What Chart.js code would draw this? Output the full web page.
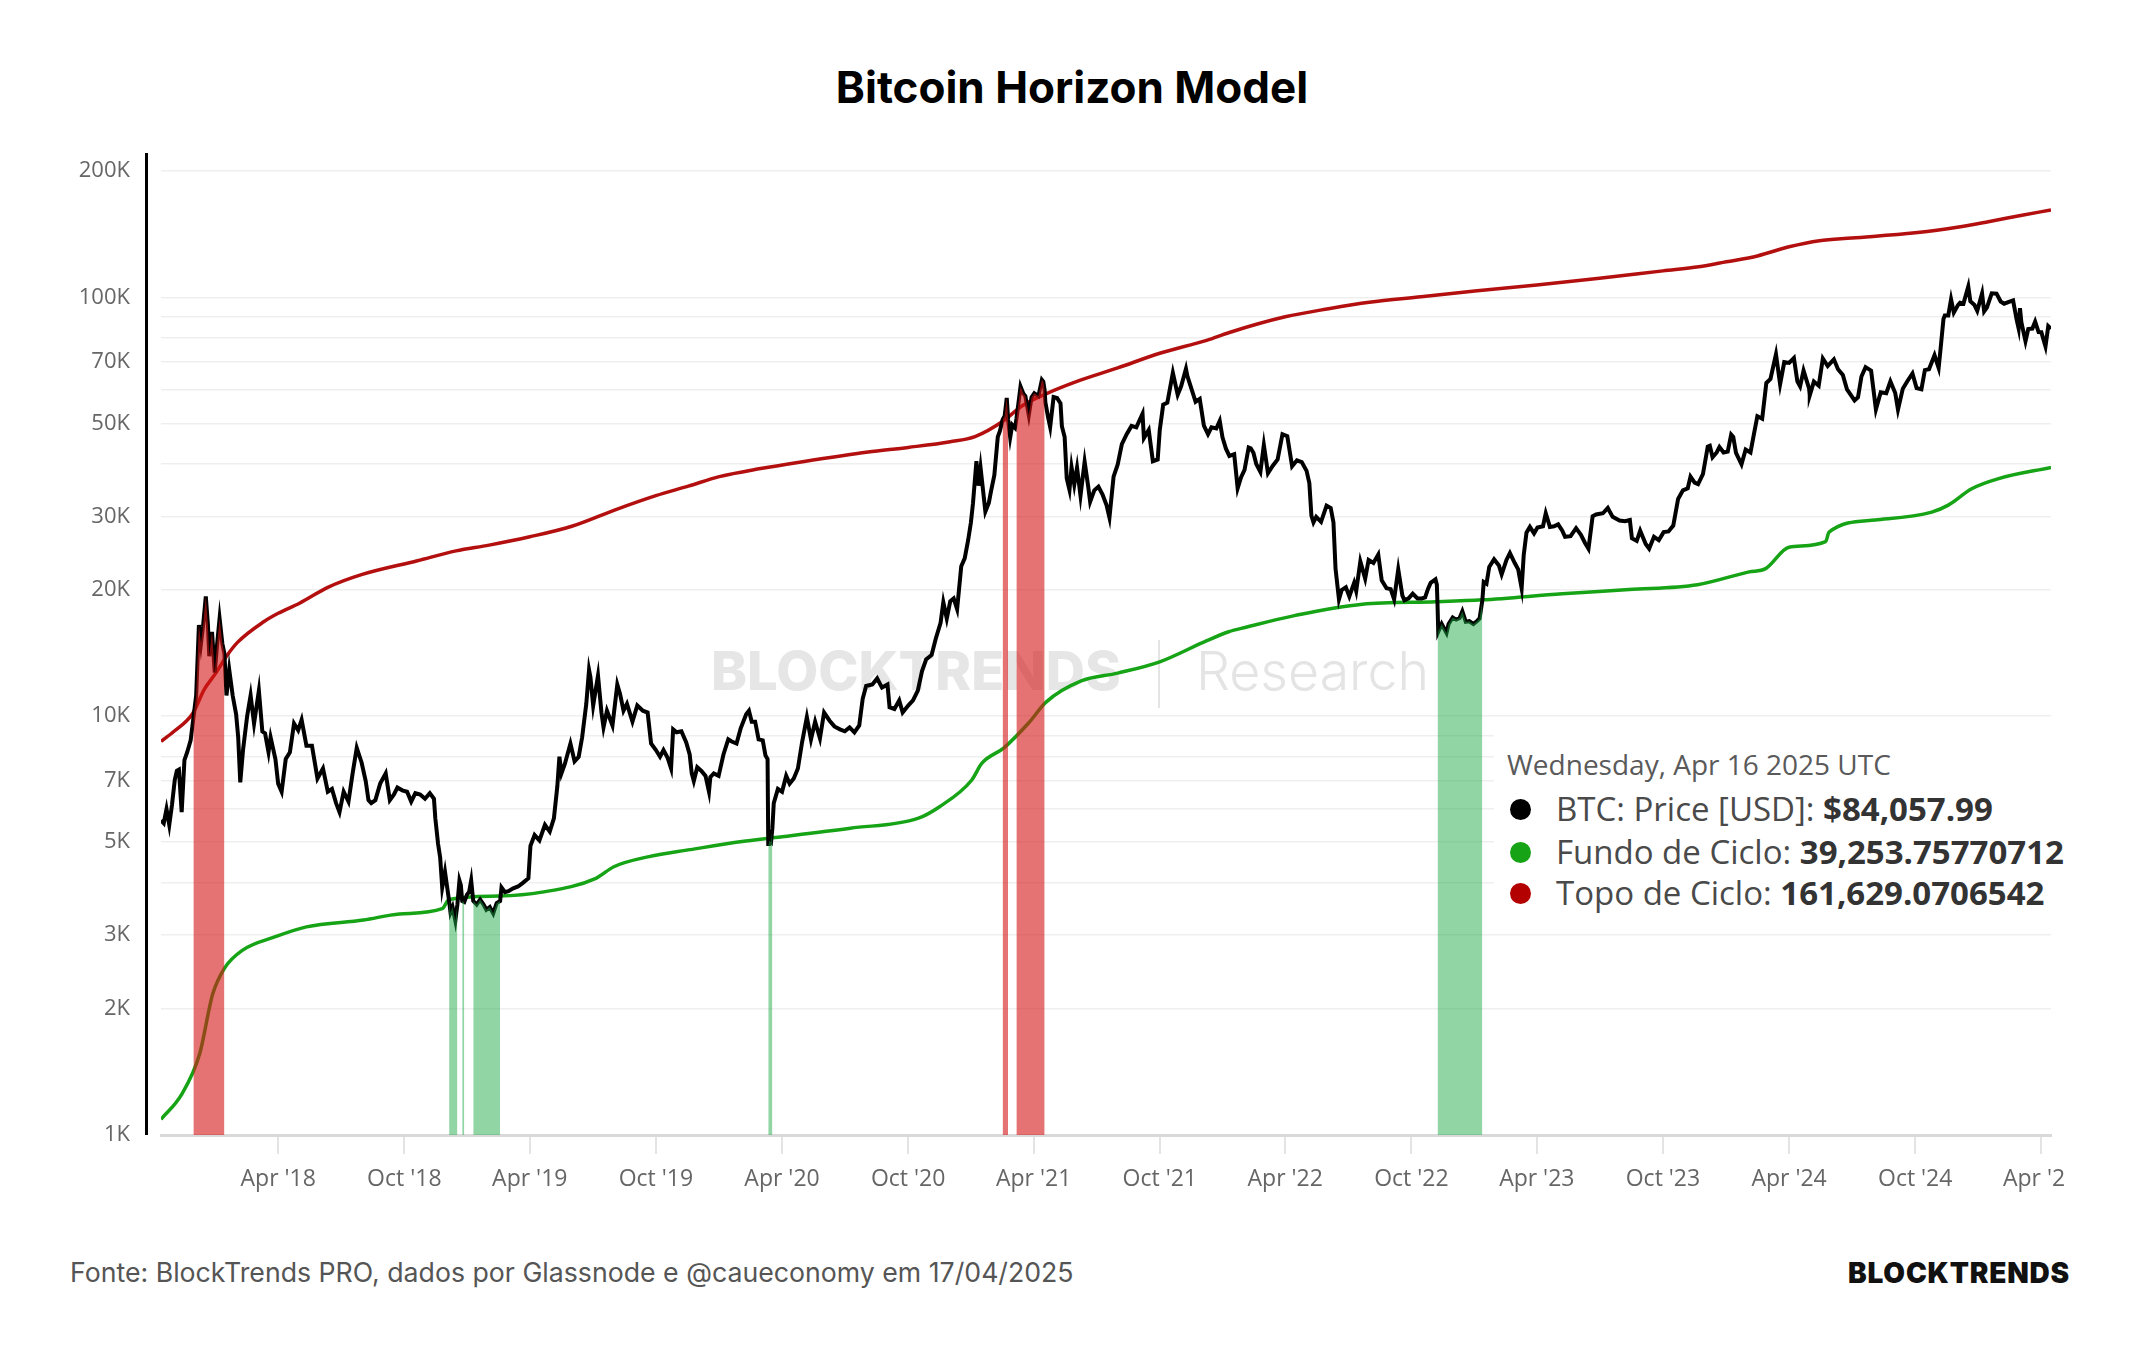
<!DOCTYPE html>
<html>
<head>
<meta charset="utf-8">
<script src="https://cdn.jsdelivr.net/npm/chart.js@4.4.1/dist/chart.umd.min.js"></script>
<style>
  html, body { margin: 0; padding: 0; background: #fff; }
  body { width: 2144px; height: 1350px; position: relative; overflow: hidden; font-family: 'Open Sans', sans-serif; }
  #title { position: absolute; left: 0; top: 59px; width: 2144px; text-align: center; font: 700 44px Inter, sans-serif; line-height: 56px; color: #000; }
  #wrap { position: absolute; left: 0; top: 140px; width: 2066px; height: 1090px; }
  #tipbox { position: absolute; left: 1494px; top: 728px; width: 572px; height: 192px; background: #fff; }
  .row { position: absolute; left: 1556px; height: 40px; line-height: 40px; font-size: 33px; color: #4a4a4a; white-space: nowrap; }
  .row b { color: #333; font-weight: 700; }
  .dot { position: absolute; left: 1510px; width: 21px; height: 21px; border-radius: 50%; }
  #date { position: absolute; left: 1507px; top: 744px; line-height: 40px; font-size: 28px; color: #5a5a5a; white-space: nowrap; }
  #src { position: absolute; left: 70px; top: 1256px; line-height: 40px; font: 400 26.7px Inter, sans-serif; color: #555; white-space: nowrap; }
  #logo { position: absolute; right: 74px; top: 1256px; line-height: 40px; font: 900 28px Inter, sans-serif; color: #111; letter-spacing: 0.8px; }
</style>
</head>
<body>
<div id="title">Bitcoin Horizon Model</div>
<div id="wrap"><canvas id="chart" width="2066" height="1090" style="width:2066px;height:1090px"></canvas></div>

<div id="tipbox"></div>
<div id="date">Wednesday, Apr 16 2025 UTC</div>
<span class="dot" style="top:799px;background:#000"></span>
<div class="row" style="top:789px">BTC: Price [USD]: <b>$84,057.99</b></div>
<span class="dot" style="top:842px;background:#16a316"></span>
<div class="row" style="top:832px">Fundo de Ciclo: <b>39,253.75770712</b></div>
<span class="dot" style="top:883px;background:#b30000"></span>
<div class="row" style="top:873px">Topo de Ciclo: <b>161,629.0706542</b></div>

<div id="src">Fonte: BlockTrends PRO, dados por Glassnode e @caueconomy em 17/04/2025</div>
<div id="logo">BLOCKTRENDS</div>

<script>
// BTC price, thousands of USD (one line per month)
const priceDates = [
  '2017-10-13','2017-10-17','2017-10-21','2017-10-25','2017-10-29',
  '2017-11-02','2017-11-05','2017-11-08','2017-11-12','2017-11-16','2017-11-20','2017-11-25','2017-11-29',
  '2017-12-03','2017-12-07','2017-12-10','2017-12-13','2017-12-17','2017-12-20','2017-12-22','2017-12-26','2017-12-30',
  '2018-01-02','2018-01-06','2018-01-10','2018-01-13','2018-01-16','2018-01-20','2018-01-25','2018-01-30',
  '2018-02-02','2018-02-05','2018-02-09','2018-02-15','2018-02-20','2018-02-25',
  '2018-03-04','2018-03-09','2018-03-13','2018-03-18','2018-03-21','2018-03-28',
  '2018-04-01','2018-04-06','2018-04-12','2018-04-18','2018-04-24','2018-04-30',
  '2018-05-05','2018-05-12','2018-05-20','2018-05-28',
  '2018-06-05','2018-06-12','2018-06-18','2018-06-24','2018-06-29',
  '2018-07-05','2018-07-12','2018-07-18','2018-07-24','2018-07-31',
  '2018-08-06','2018-08-10','2018-08-14','2018-08-20','2018-08-27',
  '2018-09-04','2018-09-10','2018-09-16','2018-09-21','2018-09-28',
  '2018-10-05','2018-10-11','2018-10-17','2018-10-24','2018-10-31',
  '2018-11-07','2018-11-13','2018-11-15','2018-11-19','2018-11-22','2018-11-25','2018-11-29',
  '2018-12-05','2018-12-07','2018-12-10','2018-12-14','2018-12-17','2018-12-20','2018-12-22','2018-12-24','2018-12-27','2018-12-31',
  '2019-01-03','2019-01-06','2019-01-09','2019-01-14','2019-01-19','2019-01-24','2019-01-28',
  '2019-02-02','2019-02-07','2019-02-12','2019-02-17','2019-02-19','2019-02-24',
  '2019-03-01','2019-03-08','2019-03-15','2019-03-22','2019-03-30',
  '2019-04-02','2019-04-08','2019-04-15','2019-04-23','2019-04-30',
  '2019-05-06','2019-05-11','2019-05-14','2019-05-17','2019-05-22','2019-05-30',
  '2019-06-05','2019-06-11','2019-06-16','2019-06-22','2019-06-26','2019-06-28',
  '2019-07-02','2019-07-09','2019-07-14','2019-07-17','2019-07-22','2019-07-30',
  '2019-08-06','2019-08-10','2019-08-15','2019-08-20','2019-08-28',
  '2019-09-04','2019-09-12','2019-09-19','2019-09-24',
  '2019-10-01','2019-10-07','2019-10-12','2019-10-18','2019-10-23','2019-10-26','2019-10-31',
  '2019-11-07','2019-11-14','2019-11-19','2019-11-22','2019-11-25','2019-11-30',
  '2019-12-06','2019-12-12','2019-12-17','2019-12-19','2019-12-24','2019-12-31',
  '2020-01-07','2020-01-14','2020-01-19','2020-01-26',
  '2020-02-01','2020-02-09','2020-02-13','2020-02-17','2020-02-22','2020-02-27',
  '2020-03-04','2020-03-08','2020-03-11','2020-03-12','2020-03-13','2020-03-16','2020-03-18','2020-03-20','2020-03-26',
  '2020-04-01','2020-04-07','2020-04-12','2020-04-18','2020-04-24','2020-04-30',
  '2020-05-07','2020-05-13','2020-05-19','2020-05-26',
  '2020-06-01','2020-06-09','2020-06-16','2020-06-24',
  '2020-07-01','2020-07-08','2020-07-15','2020-07-22','2020-07-27',
  '2020-08-01','2020-08-10','2020-08-17','2020-08-24',
  '2020-09-01','2020-09-04','2020-09-11','2020-09-18','2020-09-23',
  '2020-10-01','2020-10-08','2020-10-15','2020-10-21','2020-10-27',
  '2020-11-04','2020-11-10','2020-11-17','2020-11-21','2020-11-26',
  '2020-12-01','2020-12-06','2020-12-11','2020-12-17','2020-12-22','2020-12-27','2020-12-31',
  '2021-01-03','2021-01-08','2021-01-11','2021-01-14','2021-01-21','2021-01-26','2021-01-29',
  '2021-02-03','2021-02-08','2021-02-11','2021-02-15','2021-02-18','2021-02-21','2021-02-23','2021-02-26',
  '2021-03-01','2021-03-05','2021-03-07','2021-03-10','2021-03-13','2021-03-17','2021-03-20','2021-03-25','2021-03-29',
  '2021-04-02','2021-04-08','2021-04-13','2021-04-15','2021-04-17','2021-04-18','2021-04-22','2021-04-25','2021-04-30',
  '2021-05-05','2021-05-10','2021-05-12','2021-05-16','2021-05-19','2021-05-23','2021-05-26','2021-05-30',
  '2021-06-03','2021-06-08','2021-06-14','2021-06-19','2021-06-22','2021-06-28',
  '2021-07-04','2021-07-10','2021-07-16','2021-07-20','2021-07-26',
  '2021-08-01','2021-08-07','2021-08-14','2021-08-21','2021-08-28',
  '2021-09-06','2021-09-08','2021-09-15','2021-09-21','2021-09-28',
  '2021-10-01','2021-10-06','2021-10-12','2021-10-20','2021-10-27',
  '2021-11-01','2021-11-08','2021-11-10','2021-11-16','2021-11-22','2021-11-28',
  '2021-12-04','2021-12-10','2021-12-15','2021-12-22','2021-12-27','2021-12-31',
  '2022-01-05','2022-01-10','2022-01-17','2022-01-22','2022-01-27',
  '2022-02-01','2022-02-07','2022-02-10','2022-02-14','2022-02-18','2022-02-24',
  '2022-03-01','2022-03-07','2022-03-14','2022-03-21','2022-03-28',
  '2022-04-04','2022-04-11','2022-04-18','2022-04-25',
  '2022-05-02','2022-05-06','2022-05-09','2022-05-12','2022-05-16','2022-05-23','2022-05-31',
  '2022-06-06','2022-06-10','2022-06-13','2022-06-18','2022-06-22','2022-06-28',
  '2022-07-03','2022-07-10','2022-07-13','2022-07-19','2022-07-26','2022-07-31',
  '2022-08-07','2022-08-14','2022-08-19','2022-08-26',
  '2022-09-01','2022-09-06','2022-09-12','2022-09-18','2022-09-21','2022-09-27',
  '2022-10-03','2022-10-10','2022-10-16','2022-10-21','2022-10-25','2022-10-29',
  '2022-11-05','2022-11-07','2022-11-08','2022-11-09','2022-11-14','2022-11-21','2022-11-24','2022-11-30',
  '2022-12-05','2022-12-10','2022-12-14','2022-12-19','2022-12-24','2022-12-30',
  '2023-01-04','2023-01-08','2023-01-12','2023-01-14','2023-01-18','2023-01-22','2023-01-29',
  '2023-02-05','2023-02-09','2023-02-16','2023-02-21','2023-02-28',
  '2023-03-05','2023-03-10','2023-03-13','2023-03-17','2023-03-22','2023-03-28',
  '2023-04-02','2023-04-10','2023-04-14','2023-04-20','2023-04-26',
  '2023-05-02','2023-05-08','2023-05-12','2023-05-20','2023-05-28',
  '2023-06-04','2023-06-10','2023-06-15','2023-06-21','2023-06-26',
  '2023-07-06','2023-07-13','2023-07-20','2023-07-30',
  '2023-08-07','2023-08-14','2023-08-17','2023-08-24','2023-08-29',
  '2023-09-06','2023-09-11','2023-09-18','2023-09-25',
  '2023-10-02','2023-10-09','2023-10-16','2023-10-23','2023-10-30',
  '2023-11-06','2023-11-10','2023-11-16','2023-11-21','2023-11-28',
  '2023-12-05','2023-12-08','2023-12-12','2023-12-18','2023-12-22','2023-12-28',
  '2024-01-03','2024-01-08','2024-01-11','2024-01-15','2024-01-23','2024-01-29',
  '2024-02-05','2024-02-10','2024-02-15','2024-02-22','2024-02-28',
  '2024-03-05','2024-03-13','2024-03-19','2024-03-25',
  '2024-04-01','2024-04-08','2024-04-13','2024-04-17','2024-04-22','2024-04-30',
  '2024-05-01','2024-05-07','2024-05-14','2024-05-20','2024-05-27',
  '2024-06-05','2024-06-11','2024-06-18','2024-06-24',
  '2024-07-05','2024-07-10','2024-07-15','2024-07-21','2024-07-29',
  '2024-08-05','2024-08-12','2024-08-20','2024-08-26',
  '2024-09-02','2024-09-06','2024-09-13','2024-09-20','2024-09-27',
  '2024-10-03','2024-10-10','2024-10-15','2024-10-21','2024-10-29',
  '2024-11-04','2024-11-07','2024-11-11','2024-11-13','2024-11-18','2024-11-22','2024-11-26',
  '2024-12-02','2024-12-05','2024-12-10','2024-12-17','2024-12-20','2024-12-26','2024-12-30',
  '2025-01-06','2025-01-09','2025-01-13','2025-01-20','2025-01-27',
  '2025-02-02','2025-02-07','2025-02-14','2025-02-20','2025-02-25','2025-02-28',
  '2025-03-02','2025-03-04','2025-03-10','2025-03-14','2025-03-20','2025-03-24','2025-03-29',
  '2025-04-02','2025-04-06','2025-04-08','2025-04-12','2025-04-16'
];
const priceK = [
  5.64, 5.55, 6.00, 5.50, 6.15,
  7.05, 7.40, 7.45, 5.90, 7.85, 8.20, 8.75, 9.90,
  11.2, 16.5, 14.9, 16.4, 19.3, 16.6, 13.9, 15.9, 12.7,
  14.6, 17.1, 14.9, 14.1, 11.2, 12.9, 11.2, 10.1,
  8.90, 6.95, 8.30, 10.0, 11.2, 9.60,
  11.5, 9.20, 9.10, 8.20, 8.90, 7.90,
  6.90, 6.60, 7.90, 8.20, 9.60, 9.25,
  9.80, 8.50, 8.50, 7.10,
  7.50, 6.60, 6.70, 6.20, 5.90,
  6.60, 6.25, 7.30, 8.40, 7.75,
  7.00, 6.30, 6.20, 6.30, 6.90,
  7.30, 6.30, 6.50, 6.75, 6.65,
  6.60, 6.25, 6.55, 6.50, 6.35,
  6.55, 6.35, 5.70, 4.95, 4.60, 3.90, 4.25,
  3.62, 3.40, 3.50, 3.25, 3.55, 4.05, 3.95, 3.62, 3.60, 3.75,
  3.80, 4.05, 3.62, 3.55, 3.65, 3.55, 3.45,
  3.50, 3.38, 3.58, 3.62, 3.90, 3.80,
  3.82, 3.88, 3.92, 4.00, 4.10,
  4.90, 5.20, 5.05, 5.50, 5.30,
  5.70, 6.80, 8.00, 7.30, 7.70, 8.60,
  7.80, 8.00, 8.90, 10.7, 12.9, 12.4,
  10.6, 12.5, 10.2, 9.40, 10.3, 9.50,
  11.9, 11.3, 10.3, 10.7, 9.70,
  10.6, 10.3, 10.2, 8.60,
  8.30, 8.00, 8.30, 7.95, 7.50, 9.30, 9.15,
  9.20, 8.65, 8.10, 7.30, 7.00, 7.55,
  7.40, 7.20, 6.60, 7.15, 7.30, 7.20,
  8.10, 8.80, 8.70, 8.60,
  9.35, 10.1, 10.3, 9.70, 9.70, 8.80,
  8.75, 8.05, 7.90, 4.95, 5.05, 5.00, 5.40, 6.20, 6.70,
  6.60, 7.20, 6.90, 7.10, 7.50, 8.65,
  9.95, 8.80, 9.70, 8.85,
  10.2, 9.75, 9.45, 9.30,
  9.20, 9.40, 9.15, 9.50, 11.0,
  11.8, 11.9, 12.3, 11.7,
  11.9, 10.5, 10.4, 10.9, 10.2,
  10.6, 10.9, 11.5, 12.8, 13.65,
  14.0, 15.3, 16.7, 18.7, 17.1,
  18.8, 19.1, 18.0, 22.8, 23.8, 26.3, 29.0,
  32.2, 40.6, 35.5, 39.2, 30.8, 32.3, 34.3,
  37.6, 46.4, 47.9, 51.0, 52.1, 57.5, 51.0, 46.3,
  49.6, 48.8, 51.2, 55.9, 61.2, 58.9, 58.1, 52.3, 57.7,
  59.0, 58.1, 63.5, 62.9, 60.0, 56.2, 51.7, 49.0, 57.8,
  57.5, 55.8, 49.2, 46.4, 37.0, 34.7, 39.3, 35.7,
  39.2, 33.6, 40.5, 35.5, 32.5, 34.6,
  35.3, 33.8, 31.8, 29.8, 37.3,
  39.9, 44.6, 47.1, 49.3, 48.9,
  52.7, 46.1, 48.2, 40.6, 41.0,
  48.2, 55.4, 56.0, 66.0, 58.5,
  61.3, 67.5, 64.9, 60.4, 56.3, 57.2,
  49.4, 47.1, 48.9, 48.6, 50.7, 46.3,
  43.5, 41.8, 42.2, 35.0, 37.2,
  38.7, 43.8, 43.6, 42.5, 40.0, 38.3,
  44.4, 38.0, 39.6, 41.0, 47.1,
  46.6, 39.5, 40.8, 40.4,
  38.5, 36.0, 30.1, 29.0, 29.9, 29.1, 31.8,
  31.4, 29.0, 22.5, 19.0, 20.0, 20.3,
  19.3, 20.8, 19.9, 23.4, 21.3, 23.6,
  23.2, 24.3, 21.1, 20.2,
  20.1, 19.0, 22.4, 19.4, 18.9, 19.1,
  19.6, 19.1, 19.1, 19.2, 20.1, 20.8,
  21.2, 20.6, 18.4, 15.9, 16.6, 15.8, 16.6, 17.2,
  17.0, 17.15, 17.8, 16.8, 16.85, 16.6,
  16.85, 17.1, 18.9, 20.9, 20.7, 22.7, 23.7,
  22.9, 21.8, 23.6, 24.5, 23.2,
  22.4, 20.2, 24.2, 27.4, 28.3, 27.3,
  28.2, 28.4, 30.5, 28.3, 28.4,
  28.7, 27.7, 26.8, 26.9, 28.1,
  27.1, 25.9, 25.1, 30.0, 30.3,
  30.5, 31.4, 29.9, 29.3,
  29.2, 29.4, 26.6, 26.2, 27.7,
  25.75, 25.1, 26.8, 26.3,
  27.5, 27.6, 28.5, 33.0, 34.6,
  35.0, 37.3, 36.1, 35.8, 37.8,
  44.0, 44.2, 41.5, 42.6, 43.9, 42.6,
  42.8, 47.0, 46.4, 42.5, 39.9, 43.3,
  42.6, 47.1, 52.0, 51.3, 62.4,
  63.8, 73.1, 62.0, 70.0,
  69.7, 71.6, 63.0, 61.3, 66.8, 60.6,
  58.3, 62.9, 61.5, 71.4, 68.5,
  71.1, 67.3, 65.2, 60.3,
  56.7, 57.7, 64.7, 68.1, 66.8,
  54.0, 59.3, 59.0, 63.0,
  59.1, 53.9, 60.5, 63.2, 65.8,
  60.7, 60.3, 67.0, 67.3, 72.7,
  67.8, 75.9, 88.7, 90.5, 90.5, 98.9, 91.9,
  95.8, 97.0, 96.6, 106.1, 97.8, 95.8, 92.8,
  102.1, 92.5, 94.5, 102.2, 102.0,
  97.7, 96.5, 97.5, 98.3, 88.7, 84.3,
  94.2, 87.2, 78.5, 84.0, 84.2, 87.5, 82.6,
  82.5, 78.3, 76.3, 85.3, 84.06
];

// Topo de Ciclo (red), thousands of USD
const topDates = [
  '2017-10-13','2017-11-01','2017-11-28','2017-12-15',
  '2018-01-01','2018-01-16','2018-02-01','2018-03-11','2018-04-01','2018-05-02','2018-06-12','2018-08-01','2018-10-20','2018-12-15',
  '2019-02-01','2019-04-01','2019-06-01','2019-08-01','2019-10-01','2019-11-17',
  '2020-01-01','2020-03-01','2020-05-01','2020-08-04','2020-10-01','2020-12-01',
  '2021-01-06','2021-02-17','2021-03-15','2021-04-19','2021-06-01','2021-08-01','2021-10-01','2021-12-08',
  '2022-01-10','2022-04-01','2022-06-03','2022-08-01','2022-10-15',
  '2023-01-01','2023-04-01','2023-07-01','2023-10-01','2023-11-22',
  '2024-01-01','2024-02-15','2024-04-01','2024-05-15','2024-07-01','2024-10-01','2024-12-01',
  '2025-01-15','2025-03-01','2025-04-16'
];
const topK = [
  8.7, 9.2, 10.15, 11.6,
  12.7, 13.9, 15.0, 16.8, 17.6, 18.6, 20.3, 21.8, 23.5, 24.8,
  25.6, 26.8, 28.4, 31.0, 33.6, 35.4,
  37.3, 39.0, 40.5, 42.7, 43.8, 45.2,
  46.5, 50.8, 55.0, 58.8, 62.8, 67.8, 73.5, 78.9,
  82.4, 89.8, 93.9, 97.3, 100.3,
  103.5, 107, 111, 115.6, 118.2,
  121.5, 125.5, 132, 136.5, 138.5, 142.5, 147.0,
  151.5, 156.5, 161.63
];

// Fundo de Ciclo (green), thousands of USD
const bottomDates = [
  '2017-10-13','2017-11-12','2017-12-08','2017-12-27',
  '2018-01-13','2018-02-08','2018-03-27','2018-05-12','2018-08-03','2018-09-24','2018-11-25','2018-12-05',
  '2019-02-15','2019-04-19','2019-07-06','2019-08-01','2019-09-21','2019-11-20',
  '2020-02-03','2020-03-22','2020-07-09','2020-10-15','2020-11-15',
  '2021-01-01','2021-01-16','2021-02-17','2021-03-25','2021-04-19','2021-06-10','2021-08-01','2021-10-02','2021-12-03',
  '2022-01-09','2022-02-03','2022-04-16','2022-07-22','2022-11-05',
  '2023-01-12','2023-05-08','2023-08-13','2023-11-20',
  '2024-02-03','2024-02-27','2024-04-01','2024-05-24','2024-05-29','2024-08-04','2024-10-25','2024-11-18','2024-12-22',
  '2025-01-30','2025-04-16'
];
const bottomK = [
  1.09, 1.25, 1.56, 2.17,
  2.5, 2.76, 2.97, 3.14, 3.26, 3.37, 3.47, 3.65,
  3.72, 3.8, 4.1, 4.37, 4.62, 4.8,
  5.02, 5.13, 5.40, 5.70, 6.07,
  7.03, 7.72, 8.4, 9.64, 10.8, 12.15, 12.67, 13.5, 15.0,
  15.9, 16.3, 17.4, 18.5, 18.75,
  18.95, 19.6, 20.06, 20.6,
  22.1, 22.5, 25.3, 26.1, 27.5, 29.4, 30.7, 31.9, 34.9,
  36.9, 39.25
];

// shaded periods: price above the top (red) or below the bottom (green)
const topZones = [['2017-11-29', '2018-01-13'], ['2021-02-15', '2021-02-23'], ['2021-03-07', '2021-04-17']];
const bottomZones = [['2018-12-05', '2018-12-17'], ['2018-12-24', '2018-12-27'], ['2019-01-09', '2019-02-17'],
                     ['2020-03-12', '2020-03-18'], ['2022-11-08', '2023-01-12']];

const xTickDates = ['2018-04-01','2018-10-01','2019-04-01','2019-10-01','2020-04-01','2020-10-01','2021-04-01',
                    '2021-10-01','2022-04-01','2022-10-01','2023-04-01','2023-10-01','2024-04-01','2024-10-01','2025-04-01'];
const yGridK  = [1,2,3,4,5,6,7,8,9,10,20,30,40,50,60,70,80,90,100,200];
const yLabelK = [1,2,3,5,7,10,20,30,50,70,100,200];
const monthNames = ['Jan','Feb','Mar','Apr','May','Jun','Jul','Aug','Sep','Oct','Nov','Dec'];

const DAY = 86400000;
const toDay = s => Date.UTC(+s.slice(0, 4), +s.slice(5, 7) - 1, +s.slice(8, 10)) / DAY;
const pts = (dates, vals) => dates.map((d, i) => ({ x: toDay(d), y: vals[i] }));

const price = pts(priceDates, priceK);
const zonePts = z => price.filter(p => p.x >= toDay(z[0]) && p.x <= toDay(z[1]));

const RED_BAND = 'rgba(214,22,22,0.6)';
const GREEN_BAND = 'rgba(30,170,70,0.49)';

const bandSets = [
  ...topZones.map(z => ({ data: zonePts(z), backgroundColor: RED_BAND })),
  ...bottomZones.map(z => ({ data: zonePts(z), backgroundColor: GREEN_BAND })),
].map(d => ({ ...d, type: 'line', fill: 'start', borderWidth: 0, pointRadius: 0, order: 0 }));

const watermark = {
  id: 'watermark',
  beforeDatasetsDraw(chart) {
    const ctx = chart.ctx;
    ctx.save();
    ctx.textBaseline = 'middle';
    ctx.fillStyle = '#e6e6e6';
    let sz = 54;
    ctx.font = `800 ${sz}px Inter, sans-serif`;
    sz = sz * 410 / ctx.measureText('BLOCKTRENDS').width;
    ctx.font = `800 ${sz}px Inter, sans-serif`;
    ctx.fillText('BLOCKTRENDS', 711, 534);
    ctx.fillStyle = '#e4e4e4';
    ctx.fillRect(1158, 500, 2, 68);
    let rs = 54;
    ctx.font = `300 ${rs}px Inter, sans-serif`;
    rs = rs * 233 / ctx.measureText('Research').width;
    ctx.font = `300 ${rs}px Inter, sans-serif`;
    ctx.fillText('Research', 1196, 534);
    ctx.restore();
  }
};

const axisLine = {
  id: 'axisLine',
  afterDraw(chart) {
    const { ctx, chartArea: a } = chart;
    ctx.save();
    ctx.fillStyle = '#000';
    ctx.fillRect(a.left - 16, a.top, 3, a.bottom - a.top);
    ctx.restore();
  }
};

Chart.defaults.font.family = "'Open Sans', sans-serif";

new Chart(document.getElementById('chart'), {
  type: 'line',
  data: {
    datasets: [
      ...bandSets,
      { data: price, borderColor: '#000', borderWidth: 4, pointRadius: 0, tension: 0, order: 1 },
      { data: pts(bottomDates, bottomK), borderColor: '#16a316', borderWidth: 3.5, pointRadius: 0, cubicInterpolationMode: 'monotone', order: 2 },
      { data: pts(topDates, topK), borderColor: '#b30f0f', borderWidth: 3.5, pointRadius: 0, cubicInterpolationMode: 'monotone', order: 2 },
    ]
  },
  options: {
    responsive: false,
    animation: false,
    devicePixelRatio: 1,
    parsing: false,
    layout: { padding: { top: 13, right: 15, left: 0, bottom: 0 } },
    plugins: { legend: { display: false }, tooltip: { enabled: false } },
    scales: {
      x: {
        type: 'linear',
        min: toDay('2017-10-13'),
        max: toDay('2025-04-16'),
        afterBuildTicks: s => { s.ticks = xTickDates.map(d => ({ value: toDay(d) })); },
        afterFit: s => { s.height = 95; s.paddingLeft = 0; s.paddingRight = 0; },
        ticks: {
          autoSkip: false, maxRotation: 0, padding: 12, color: '#666', font: { size: 23 },
          callback: v => { const d = new Date(v * DAY); return monthNames[d.getUTCMonth()] + " '" + String(d.getUTCFullYear()).slice(2); }
        },
        grid: { drawOnChartArea: false, tickLength: 19, color: '#e4e4e4', lineWidth: 2 },
        border: { color: '#d9d9d9', width: 3 }
      },
      y: {
        type: 'logarithmic',
        min: 1,
        max: 221,
        afterBuildTicks: s => { s.ticks = yGridK.map(v => ({ value: v })); },
        afterFit: s => { s.width = 161; s.paddingTop = 0; s.paddingBottom = 0; },
        ticks: {
          padding: 31, color: '#666', font: { size: 22 },
          callback: v => yLabelK.includes(v) ? v + 'K' : ''
        },
        grid: { drawTicks: false, color: '#efefef', lineWidth: 1.5 },
        border: { display: false }
      }
    }
  },
  plugins: [watermark, axisLine]
});
</script>
</body>
</html>
